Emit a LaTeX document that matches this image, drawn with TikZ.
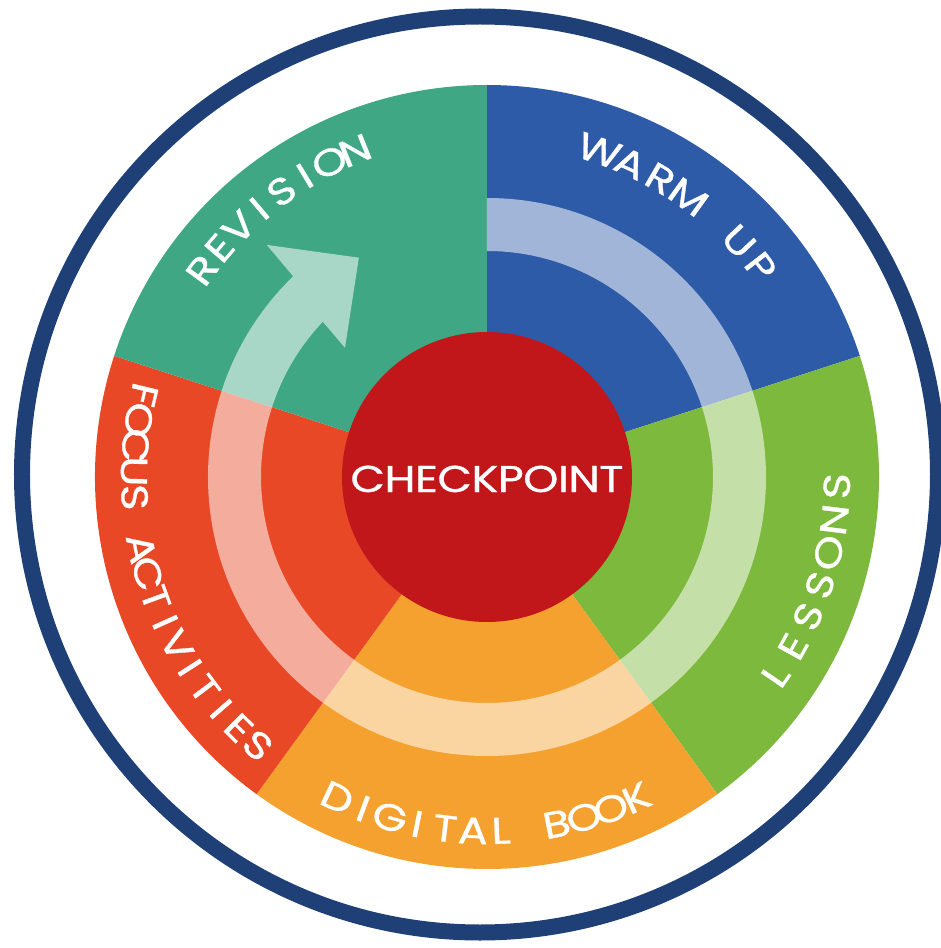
\documentclass[tikz,border=0pt]{standalone}
\usepackage{fontspec}
\setmainfont{Poppins}
\newfontfamily\lblfam{Poppins}[FakeBold=0.9,FakeStretch=1.2]
\definecolor{cnavy}{HTML}{1F3F77}
\definecolor{cblue}{HTML}{2D5BA8}
\definecolor{cgreen}{HTML}{7DB93C}
\definecolor{corange}{HTML}{F5A12F}
\definecolor{cred}{HTML}{E84826}
\definecolor{cteal}{HTML}{3FA784}
\definecolor{ccheck}{HTML}{C1171A}
\newlength\chw
\newlength\totw
\newlength\curs
\newlength\caph
\newcount\nch
\newcommand\lblfont{\lblfam\fontsize{36}{36}\selectfont}
\newcommand\wgap{\hspace{0pt}}
\tikzset{
  letter/.style={text=white, font=\lblfont, inner sep=0pt, text height=26pt, text depth=0pt, anchor=center},
  ringarrow/.style={fill=white, fill opacity=0.55},
  outerring/.style={draw=cnavy, line width=16pt},
}
% #1 name, #2 radius, #3 start angle, #4 end angle, #5 dir (1 ccw, -1 cw), #6 letters
\newcommand\arctext[6]{%
  \global\totw=0pt \global\nch=0
  \foreach \ch in {#6}{\settowidth\chw{\lblfont\ch}\global\advance\totw by \chw\global\advance\nch by 1}%
  \pgfmathsetmacro\arclen{#2*(abs(#4-#3)/180*pi)}%
  \pgfmathsetmacro\lsp{(\arclen-\the\totw)/(\the\nch-1)}%
  \global\curs=0pt
  \foreach \ch [count=\i] in {#6}{%
    \settowidth\chw{\lblfont\ch}%
    \pgfmathsetmacro\ang{#3+(#5)*((\the\curs+0.5*\the\chw)/#2)/pi*180}%
    \pgfmathsetmacro\rot{\ang+(#5)*90}%
    \node[letter, rotate=\rot] (#1-\i) at (\ang:#2) {\ch};
    \global\advance\curs by \chw
    \global\advance\curs by \lsp pt
  }%
}
\newcommand\spacedword[2]{%
  \global\totw=0pt \global\nch=0
  \foreach \ch in {#2}{\settowidth\chw{\lblfont\ch}\global\advance\totw by \chw\global\advance\nch by 1}%
  \pgfmathsetmacro\lsp{(#1-\the\totw)/(\the\nch-1)}%
  \foreach \ch [count=\i] in {#2}{\ifnum\i>1 \hspace{\lsp pt}\fi\ch}%
}
\begin{document}
\settoheight\caph{\lblfam\fontsize{10}{10}\selectfont H}%
\pgfmathsetmacro\lblsize{10*26/\the\caph}%
\renewcommand\lblfont{\lblfam\fontsize{\lblsize}{\lblsize}\selectfont}%
\begin{tikzpicture}[x=1pt,y=1pt]
\useasboundingbox (-487,-471) rectangle (453,477);
% sectors
\fill[cblue]   (0,0) -- (90:392)   arc[start angle=90,   end angle=18,   radius=392] -- cycle;
\fill[cgreen]  (0,0) -- (18:392)   arc[start angle=18,   end angle=-54,  radius=392] -- cycle;
\fill[corange] (0,0) -- (-54:392)  arc[start angle=-54,  end angle=-126, radius=392] -- cycle;
\fill[cred]    (0,0) -- (-126:392) arc[start angle=-126, end angle=-198, radius=392] -- cycle;
\fill[cteal]   (0,0) -- (162:392)  arc[start angle=162,  end angle=90,   radius=392] -- cycle;
% circular arrow
\fill[ringarrow] (90:279) arc[start angle=90, end angle=-226, radius=279]
  -- (133.5:320) -- (120.3:254) -- (137.7:192) -- (136.6:226)
  arc[start angle=-223.4, end angle=90, radius=226] -- cycle;
% centre
\fill[ccheck] (0,0) circle[radius=145];
\node[letter, text height=25pt] (check) at (0,-2.5) {\spacedword{273}{C,H,E,C,K,P,O,I,N,T}};
% labels
\arctext{warm}{345}{71}{37.5}{-1}{W,A,R,M,\wgap,U,P}
\arctext{less}{350}{-34.5}{-1.5}{1}{L,E,S,S,O,N,S}
\arctext{book}{354}{-115}{-65}{1}{D,I,G,I,T,A,L,\wgap,B,O,O,K}
\arctext{focus}{353}{166.5}{229.5}{1}{F,O,C,U,S,\wgap,A,C,T,I,V,I,T,I,E,S}
\arctext{rev}{352}{144}{112}{-1}{R,E,V,I,S,I,O,N}
% outer ring
\draw[outerring] (-7,2.5) circle[radius=458];
\end{tikzpicture}
\end{document}
